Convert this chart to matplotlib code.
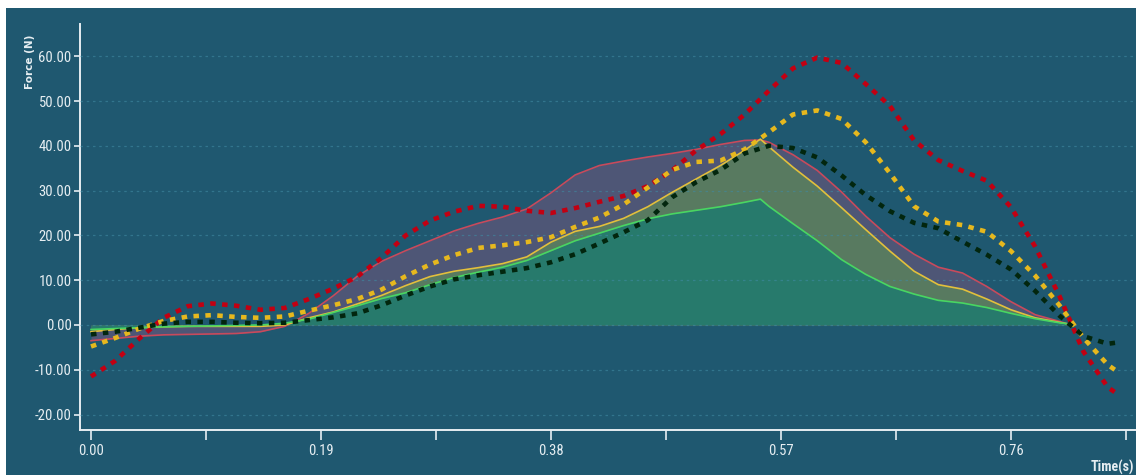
import matplotlib
matplotlib.use('Agg')
import matplotlib.pyplot as plt
from matplotlib.patches import Rectangle
from matplotlib import font_manager
import numpy as np

# time axis of the dotted (reference) curves
t_dot = [0.00, 0.02, 0.04, 0.06, 0.08, 0.10, 0.12, 0.14, 0.16, 0.18,
         0.20, 0.22, 0.24, 0.26, 0.28, 0.30, 0.32, 0.34, 0.36, 0.38,
         0.40, 0.42, 0.44, 0.46, 0.48, 0.50, 0.52, 0.54, 0.56, 0.58,
         0.60, 0.62, 0.64, 0.66, 0.68, 0.70, 0.72, 0.74, 0.76, 0.78,
         0.80, 0.82, 0.84, 0.848]
red_dot = [-11.5, -8.0, -3.0, 1.6, 4.2, 4.8, 4.3, 3.4, 3.8, 5.8,
           8.1, 10.8, 15.0, 20.0, 23.3, 25.3, 26.6, 26.4, 25.5, 25.0,
           26.1, 27.5, 28.8, 31.0, 34.5, 39.0, 42.6, 47.0, 52.3, 57.3,
           59.7, 58.5, 53.8, 48.9, 41.2, 36.8, 34.4, 32.2, 26.3, 17.5,
           6.5, -6.0, -13.9, -15.4]
yellow_dot = [-4.8, -2.9, -0.8, 0.9, 1.9, 2.2, 1.8, 1.6, 1.9, 3.2,
              4.4, 5.8, 7.9, 10.9, 13.5, 15.6, 17.2, 17.8, 18.5, 19.6,
              21.9, 24.0, 26.9, 30.7, 34.6, 36.4, 36.7, 39.2, 43.0, 47.0,
              47.9, 46.0, 40.8, 33.9, 26.5, 23.1, 22.3, 20.8, 16.5, 11.0,
              4.4, -2.9, -8.9, -10.4]
green_dot = [-2.1, -1.5, -0.6, 0.3, 0.7, 0.7, 0.5, 0.4, 0.5, 1.1,
             1.7, 2.6, 4.4, 6.6, 8.6, 10.2, 11.1, 11.9, 12.7, 14.0,
             15.8, 18.2, 20.7, 23.4, 28.5, 31.9, 34.6, 38.3, 40.0, 39.5,
             37.4, 33.4, 29.0, 25.4, 22.8, 21.6, 18.6, 15.7, 12.4, 7.6,
             2.1, -2.5, -4.2, -3.9]

# time axis of the filled curves
t_solid = [0.00, 0.02, 0.04, 0.06, 0.08, 0.10, 0.12, 0.14, 0.16, 0.18,
           0.20, 0.22, 0.24, 0.26, 0.28, 0.30, 0.32, 0.34, 0.36, 0.38,
           0.40, 0.42, 0.44, 0.46, 0.48, 0.50, 0.52, 0.54, 0.553, 0.56,
           0.58, 0.60, 0.62, 0.64, 0.66, 0.68, 0.70, 0.72, 0.74, 0.76,
           0.78, 0.80, 0.806]
red_solid = [-3.5, -3.0, -2.5, -2.2, -2.1, -2.0, -1.9, -1.5, -0.3, 2.6,
             6.5, 10.9, 14.2, 16.6, 18.8, 21.0, 22.7, 24.1, 25.9, 29.5,
             33.5, 35.6, 36.6, 37.5, 38.3, 39.2, 40.3, 41.2, 41.3, 40.8,
             38.0, 34.5, 29.7, 24.3, 19.5, 15.8, 12.9, 11.6, 8.6, 5.2,
             2.3, 0.8, 0.3]
yellow_solid = [-1.5, -1.0, -0.6, -0.4, -0.3, -0.3, -0.3, -0.3, 0.0, 1.6,
                2.9, 4.7, 6.6, 8.8, 10.8, 12.0, 12.8, 13.7, 15.2, 18.5,
                20.9, 22.0, 23.8, 26.4, 29.6, 32.6, 35.6, 39.0, 41.5, 39.8,
                35.2, 31.0, 26.2, 21.3, 16.5, 12.0, 9.0, 8.0, 5.8, 3.4,
                1.6, 0.6, 0.3]
green_solid = [-1.0, -0.8, -0.6, -0.4, -0.3, -0.2, -0.1, 0.0, 0.4, 1.3,
               2.8, 4.3, 5.9, 7.2, 9.0, 10.6, 11.8, 12.9, 14.4, 16.6,
               18.8, 20.5, 22.2, 23.7, 24.8, 25.6, 26.4, 27.4, 28.1, 26.5,
               22.6, 18.8, 14.6, 11.3, 8.6, 6.9, 5.5, 4.9, 3.9, 2.6,
               1.4, 0.5, 0.3]

y_ticks = [-20, -10, 0, 10, 20, 30, 40, 50, 60]
x_major = [0.00, 0.19, 0.38, 0.57, 0.76]
x_minor = [0.095, 0.285, 0.475, 0.665, 0.855]

bg = '#1f5870'
txt = '#e6eef2'
installed = {f.name for f in font_manager.fontManager.ttflist}
narrow = [f for f in ['Liberation Sans Narrow', 'Roboto Condensed', 'DejaVu Sans Condensed', 'DejaVu Sans']
          if f in installed] or ['DejaVu Sans']
narrow_stretch = 'normal' if narrow[0] != 'DejaVu Sans' else 'condensed'

fig = plt.figure(figsize=(11.36, 4.75), dpi=100)
fig.patch.set_facecolor('white')
fig.add_artist(Rectangle((6 / 1136, 0), 1, 467 / 475, transform=fig.transFigure,
                         facecolor=bg, edgecolor='none', zorder=-10))

ax = fig.add_axes([80 / 1136, 45 / 475, 1056 / 1136, 406 / 475])
ax.patch.set_visible(False)
ax.set_xlim(-0.0091, 0.8633)
ax.set_ylim(-23.44, 67.19)

# filled areas, back to front
ax.fill_between(t_solid, 0, red_solid, color='#4e5676', lw=0, zorder=1)
ax.fill_between(t_solid, 0, yellow_solid, color='#587a60', lw=0, zorder=2)
ax.fill_between(t_solid, 0, green_solid, color='#277a6c', lw=0, zorder=3)

for yv in y_ticks:
    ax.axhline(yv, color='#3f8aa2', lw=0.9, ls=(0, (2, 3)), alpha=0.6, zorder=4)

ax.plot(t_solid, red_solid, color='#c84a5c', lw=1.2, zorder=5)
ax.plot(t_solid, yellow_solid, color='#e2c03c', lw=1.2, zorder=6)
ax.plot(t_solid, green_solid, color='#48d662', lw=1.2, zorder=7)

dot = (0, (1.2, 1.4))
ax.plot(t_dot, red_dot, color='#c20012', lw=3.3, ls=dot, dash_capstyle='butt', zorder=8)
ax.plot(t_dot, yellow_dot, color='#e6b81e', lw=3.3, ls=dot, dash_capstyle='butt', zorder=9)
ax.plot(t_dot, green_dot, color='#02260e', lw=3.3, ls=dot, dash_capstyle='butt', zorder=10)

for s in ['top', 'right']:
    ax.spines[s].set_visible(False)
for s in ['left', 'bottom']:
    ax.spines[s].set_color(txt)
    ax.spines[s].set_linewidth(1.4)

ax.set_yticks(y_ticks)
ax.set_yticklabels(['%.2f' % v for v in y_ticks], family=narrow, stretch=narrow_stretch,
                   fontsize=10.5, color=txt)
ax.set_xticks(x_major)
ax.set_xticklabels(['%.2f' % v for v in x_major], family=narrow, stretch=narrow_stretch,
                   fontsize=10.5, color=txt)
ax.set_xticks(x_minor, minor=True)
ax.tick_params(axis='y', length=4, width=1.2, color=txt, pad=2)
ax.tick_params(axis='x', which='both', length=7, width=1.2, color=txt, pad=3)

fig.text(30 / 1136, 1 - 62 / 475, 'Force (N)', rotation=90, ha='center', va='center',
         fontsize=7.5, fontweight='bold', color=txt)
fig.text(1134 / 1136, 1 - 467 / 475, 'Time(s)', ha='right', va='center',
         family=narrow, stretch=narrow_stretch, fontsize=10, fontweight='bold', color=txt)

fig.savefig('out.png', dpi=100, facecolor=fig.get_facecolor())
